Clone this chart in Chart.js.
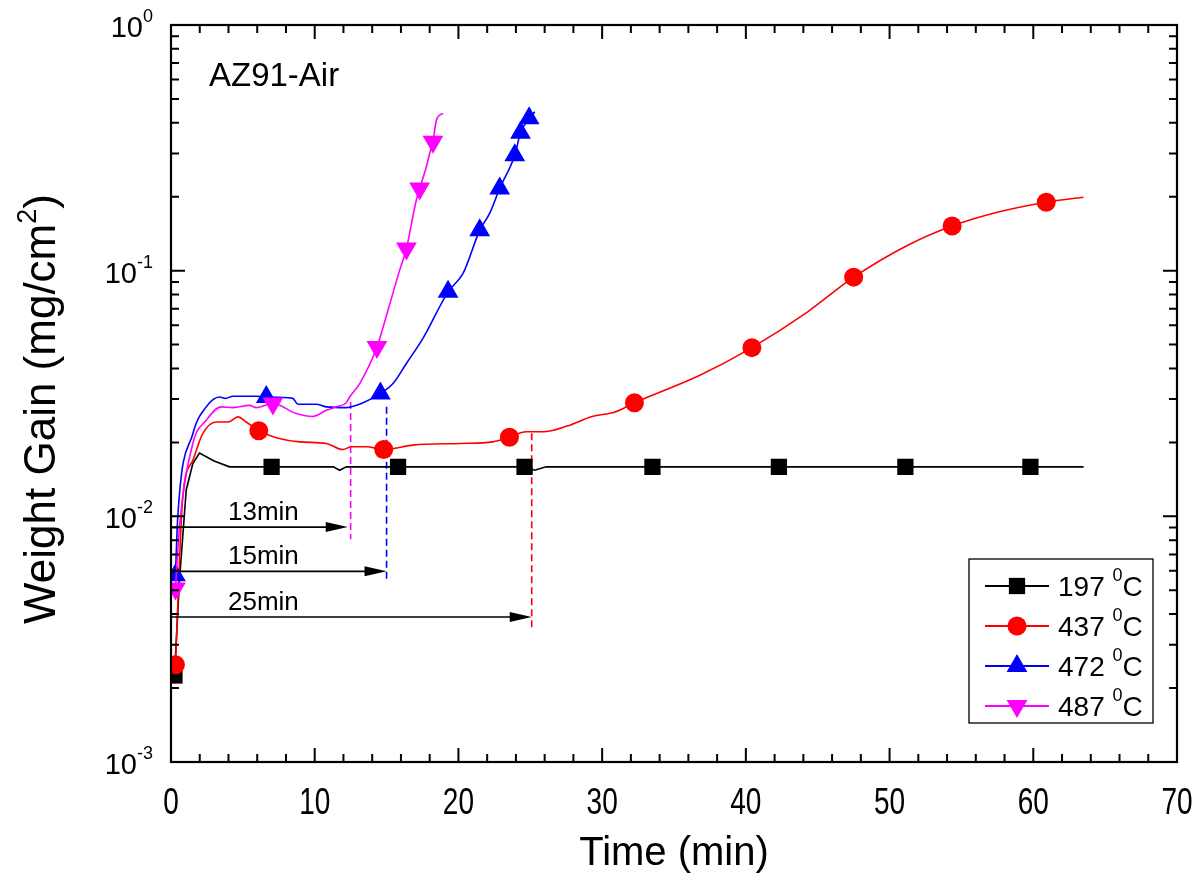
<!DOCTYPE html>
<html><head><meta charset="utf-8">
<script src="https://cdn.jsdelivr.net/npm/chart.js@4.4.0/dist/chart.umd.min.js"></script>
<style>html,body{margin:0;padding:0;background:#fff}#wrap{width:1200px;height:875px}</style>
</head><body><div id="wrap"><canvas id="c" width="1200" height="875"></canvas></div>
<script>
// ---------------- data ----------------
const t197 = [0.24,0.59,1.06,1.52,1.98,3.0,4.07,7.0,11.3,11.73,12.2,24.6,25.3,26.1,63.5];
const v197 = [0.00225,0.0055,0.0128,0.0164,0.0181,0.0168,0.0159,0.0159,0.0159,0.0154,0.0159,0.0159,0.0154,0.0159,0.0159];
const mk197T = [0.24,7.0,15.8,24.6,33.5,42.3,51.1,59.8];
const mk197V = [0.00225,0.0159,0.0159,0.0159,0.0159,0.0159,0.0159,0.0159];

const t437 = [0.31,0.82,1.52,2.21,3.15,4.0,4.65,5.24,6.11,7.33,8.95,10.81,11.96,12.55,13.6,14.8,16.84,20.1,22.4,23.55,24.7,25.9,27.56,29.3,30.9,32.25,36.8,40.42,44.3,47.5,51.27,54.35,57.7,60.9,63.5];
const v437 = [0.00249,0.0120,0.0169,0.0217,0.0242,0.0242,0.0254,0.0242,0.0223,0.0209,0.0201,0.0198,0.0187,0.0192,0.0192,0.0187,0.0195,0.0198,0.0201,0.0210,0.0221,0.0221,0.0233,0.0255,0.0266,0.0290,0.0375,0.0486,0.0680,0.0941,0.127,0.152,0.174,0.190,0.199];
const mk437T = [0.31,6.11,14.8,23.55,32.25,40.42,47.5,54.35,60.9];
const mk437V = [0.00249,0.0223,0.0187,0.0210,0.0290,0.0486,0.0941,0.152,0.190];

const t472 = [0.31,0.47,1.52,2.45,3.38,3.8,4.3,5.93,6.63,8.48,8.83,10.11,10.8,12.2,12.9,13.36,14.57,15.45,16.38,17.53,19.28,20.32,21.48,22.17,22.87,23.92,24.32,24.92,25.31];
const v472 = [0.00575,0.00993,0.0217,0.0279,0.0306,0.0302,0.0308,0.0308,0.0306,0.0302,0.0286,0.0286,0.0279,0.0277,0.0283,0.0290,0.0316,0.0347,0.0419,0.0530,0.0820,0.0975,0.146,0.171,0.216,0.295,0.364,0.417,0.443];
const mk472T = [0.31,6.63,14.57,19.28,21.48,22.87,23.92,24.32,24.92];
const mk472V = [0.00575,0.0306,0.0316,0.0820,0.146,0.216,0.295,0.364,0.417];

const t487 = [0.31,0.59,1.52,2.45,3.5,4.3,5.47,5.93,7.09,8.72,9.87,10.81,11.5,12.2,12.43,13.13,14.33,15.1,15.91,16.38,17.07,17.3,17.77,18.0,18.23,18.47,18.93];
const v487 = [0.00509,0.00904,0.0198,0.0246,0.0279,0.0277,0.0283,0.0277,0.0288,0.0262,0.0255,0.0270,0.0279,0.0290,0.0306,0.0347,0.0489,0.0690,0.1005,0.123,0.194,0.216,0.265,0.300,0.335,0.410,0.437];
const mk487T = [0.31,7.09,14.33,16.38,17.3,18.23];
const mk487V = [0.00509,0.0288,0.0489,0.123,0.216,0.335];

const seriesNames = ['197','437','472','487'];
const xTickValues = [0,10,20,30,40,50,60,70];
const yTickValues = [1,0.1,0.01,0.001];
const yTickExps = ['0','-1','-2','-3'];

const arrowTime = [12.3,15.0,25.1];
const arrowValue = [0.00904,0.00597,0.00389];
const arrowLabels = ['13min','15min','25min'];
const dashTime = [12.5,15.0,25.1];
const dashTop = [0.0292,0.0279,0.0218];
const dashBottom = [0.00806,0.0054,0.00353];

const titleText = 'AZ91-Air';
const xTitle = 'Time (min)';

// ---------------- styles ----------------
const FONT = 'Arial, "Liberation Sans", sans-serif';
const COLORS = ['#000000','#ff0000','#0000ff','#ff00ff'];
const STYLES = ['rect','circle','triangle','triangle'];
const ROT = [0,0,0,180];
const RAD = [11.5,9.5,12,12];

const pts = (a,b)=>a.map((x,i)=>({x:x,y:b[i]}));
const lineSets = [[t197,v197],[t437,v437],[t472,v472],[t487,v487]];
const markSets = [[mk197T,mk197V],[mk437T,mk437V],[mk472T,mk472V],[mk487T,mk487V]];

const datasets = [];
lineSets.forEach((s,i)=>{
  datasets.push({data:pts(s[0],s[1]),borderColor:COLORS[i],borderWidth:1.6,pointRadius:0,
    cubicInterpolationMode: i===0?'default':'monotone',tension:0,order:10-i*2+1,fill:false});
  datasets.push({data:pts(markSets[i][0],markSets[i][1]),showLine:false,pointStyle:STYLES[i],
    pointRotation:ROT[i],pointRadius:RAD[i],pointBackgroundColor:COLORS[i],pointBorderColor:COLORS[i],
    pointBorderWidth:0,order:10-i*2});
});
const dashColors = ['#ff00ff','#0000ff','#ff0000'];
dashTime.forEach((t,i)=>{
  datasets.push({data:[{x:t,y:dashTop[i]},{x:t,y:dashBottom[i]}],borderColor:dashColors[i],
    borderWidth:1.6,borderDash:[7,4],pointRadius:0,order:20});
});

function drawParts(ctx, parts, x, y, align){
  let w=0;
  parts.forEach(p=>{ctx.font=p.size+'px '+FONT; p.w=ctx.measureText(p.t).width; w+=p.w;});
  let cx = align==='right'? x-w : align==='center'? x-w/2 : x;
  ctx.textAlign='left';ctx.textBaseline='alphabetic';
  parts.forEach(p=>{ctx.font=p.size+'px '+FONT; ctx.fillText(p.t,cx,y+(p.dy||0)); cx+=p.w;});
  return w;
}

function drawMarker(ctx,style,x,y,r,rot,color){
  ctx.save();ctx.fillStyle=color;ctx.beginPath();
  if(style==='rect'){const s=Math.SQRT1_2*r;ctx.rect(x-s,y-s,2*s,2*s);}
  else if(style==='circle'){ctx.arc(x,y,r,0,Math.PI*2);}
  else {let a=rot*Math.PI/180;
    for(let k=0;k<3;k++){const px=x+Math.sin(a)*r, py=y-Math.cos(a)*r; if(k===0)ctx.moveTo(px,py);else ctx.lineTo(px,py); a+=2*Math.PI/3;}
    ctx.closePath();}
  ctx.fill();ctx.restore();
}

const decor = {
  id:'decor',
  afterDraw(chart){
    const ctx=chart.ctx, xs=chart.scales.x, ys=chart.scales.y, a=chart.chartArea;
    ctx.save();
    ctx.strokeStyle='#000';ctx.fillStyle='#000';
    // ticks
    ctx.lineWidth=2;
    ctx.beginPath();
    for(let t=2;t<70;t+=2){
      const px=xs.getPixelForValue(t), L=(t%10===0)?14:8;
      ctx.moveTo(px,a.bottom);ctx.lineTo(px,a.bottom-L);
      ctx.moveTo(px,a.top);ctx.lineTo(px,a.top+L);
    }
    for(let d=-3;d<0;d++){
      for(let k=1;k<=9;k++){
        if(d===-3&&k===1)continue;
        const py=ys.getPixelForValue(k*Math.pow(10,d)), L=(k===1)?14:8;
        ctx.moveTo(a.left,py);ctx.lineTo(a.left+L,py);
        ctx.moveTo(a.right,py);ctx.lineTo(a.right-L,py);
      }
    }
    ctx.stroke();
    // frame
    ctx.lineWidth=2.2;
    ctx.strokeRect(a.left,a.top,a.right-a.left,a.bottom-a.top);
    // x tick labels (slightly tall glyphs as in the reference)
    ctx.font='28px '+FONT;ctx.textAlign='center';ctx.textBaseline='alphabetic';
    xTickValues.forEach(v=>{
      ctx.save();ctx.translate(xs.getPixelForValue(v),a.bottom+52);ctx.scale(1,1.3);
      ctx.fillText(String(v),0,0);ctx.restore();
    });
    // y tick labels
    yTickValues.forEach((v,i)=>{
      const py=ys.getPixelForValue(v);
      drawParts(ctx,[{t:'10',size:29,dy:12},{t:yTickExps[i],size:18,dy:-3}],a.left-18,py,'right');
    });
    // axis titles
    drawParts(ctx,[{t:xTitle,size:40}],(a.left+a.right)/2,a.bottom+103,'center');
    ctx.save();ctx.translate(55,409);ctx.rotate(-Math.PI/2);
    drawParts(ctx,[{t:'Weight Gain (mg/cm',size:44},{t:'2',size:27,dy:-19},{t:')',size:44}],0,0,'center');
    ctx.restore();
    // panel label
    drawParts(ctx,[{t:titleText,size:33}],a.left+38,a.top+61,'left');
    // arrows
    ctx.lineWidth=1.6;
    arrowTime.forEach((t,i)=>{
      const x0=xs.getPixelForValue(0), x1=xs.getPixelForValue(t), py=ys.getPixelForValue(arrowValue[i]);
      ctx.beginPath();ctx.moveTo(x0,py);ctx.lineTo(x1-18,py);ctx.stroke();
      ctx.beginPath();ctx.moveTo(x1,py);ctx.lineTo(x1-22,py-5);ctx.lineTo(x1-22,py+5);ctx.closePath();ctx.fill();
      drawParts(ctx,[{t:arrowLabels[i],size:26}],x0+57,py-7,'left');
    });
    // legend
    const bx=a.right-208, by=a.bottom-203, bw=184, bh=164;
    ctx.lineWidth=1.3;ctx.strokeStyle='#000';
    ctx.strokeRect(bx,by,bw,bh);
    seriesNames.forEach((n,i)=>{
      const ry=by+27+i*40;
      ctx.strokeStyle=COLORS[i];ctx.lineWidth=1.8;
      ctx.beginPath();ctx.moveTo(bx+16,ry);ctx.lineTo(bx+80,ry);ctx.stroke();
      drawMarker(ctx,STYLES[i],bx+48,ry,RAD[i],ROT[i],COLORS[i]);
      ctx.fillStyle='#000';
      drawParts(ctx,[{t:n+' ',size:28,dy:10},{t:'0',size:18,dy:-5},{t:'C',size:28,dy:10}],bx+89,ry,'left');
    });
    ctx.restore();
  }
};

new Chart(document.getElementById('c'),{
  type:'line',
  data:{datasets:datasets},
  options:{
    responsive:false,animation:false,devicePixelRatio:1,
    layout:{padding:{left:171,right:23,top:25,bottom:113}},
    plugins:{legend:{display:false},tooltip:{enabled:false}},
    scales:{
      x:{type:'linear',min:0,max:70,display:false},
      y:{type:'logarithmic',min:0.001,max:1,display:false}
    }
  },
  plugins:[decor]
});
</script></body></html>
